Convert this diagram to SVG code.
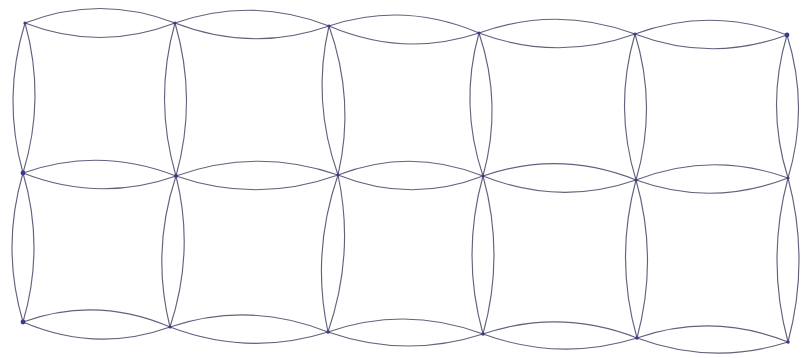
<svg xmlns="http://www.w3.org/2000/svg" width="802" height="358" viewBox="0 0 802 358">
<style>
.lens{fill:none;stroke:#62627e;stroke-width:1.15;stroke-linejoin:round}
.v{fill:#3b3a8a}
</style>
<rect width="802" height="358" fill="#ffffff"/>
<g id="connectors">
<path class="lens" d="M25 23 Q100 -6 175 23 Q100 52 25 23Z"/>
<path class="lens" d="M175 23 Q252 -4 329 26 Q252 53 175 23Z"/>
<path class="lens" d="M329 26 Q404 1 479 33 Q404 58 329 26Z"/>
<path class="lens" d="M479 33 Q557 5 635 34 Q557 62 479 33Z"/>
<path class="lens" d="M635 34 Q711 6 787 35 Q711 63 635 34Z"/>
<path class="lens" d="M23 173 Q99.5 146 176 176 Q99.5 203 23 173Z"/>
<path class="lens" d="M176 176 Q257 147 338 175 Q257 204 176 176Z"/>
<path class="lens" d="M338 175 Q410.5 147 483 176 Q410.5 204 338 175Z"/>
<path class="lens" d="M483 176 Q559.5 149.5 636 180 Q559.5 206.5 483 176Z"/>
<path class="lens" d="M636 180 Q712 150.5 788 178 Q712 207.5 636 180Z"/>
<path class="lens" d="M23 322 Q96.5 295.5 170 327 Q96.5 353.5 23 322Z"/>
<path class="lens" d="M170 327 Q249 300.5 328 332 Q249 357 170 327Z"/>
<path class="lens" d="M328 332 Q405.5 305 483 334 Q405.5 359 328 332Z"/>
<path class="lens" d="M483 334 Q560 308 637 338 Q560 362 483 334Z"/>
<path class="lens" d="M637 338 Q712.5 312 788 342 Q712.5 366 637 338Z"/>
<path class="lens" d="M25 23 Q2 98 23 173 Q46 98 25 23Z"/>
<path class="lens" d="M175 23 Q153.5 99.5 176 176 Q197.5 99.5 175 23Z"/>
<path class="lens" d="M329 26 Q311.5 100.5 338 175 Q355.5 100.5 329 26Z"/>
<path class="lens" d="M479 33 Q459 104.5 483 176 Q503 104.5 479 33Z"/>
<path class="lens" d="M635 34 Q613.5 107 636 180 Q657.5 107 635 34Z"/>
<path class="lens" d="M787 35 Q765.5 106.5 788 178 Q809.5 106.5 787 35Z"/>
<path class="lens" d="M23 173 Q1 247.5 23 322 Q45 247.5 23 173Z"/>
<path class="lens" d="M176 176 Q151 251.5 170 327 Q195 251.5 176 176Z"/>
<path class="lens" d="M338 175 Q311 253.5 328 332 Q355 253.5 338 175Z"/>
<path class="lens" d="M483 176 Q461 255 483 334 Q505 255 483 176Z"/>
<path class="lens" d="M636 180 Q614.5 259 637 338 Q658.5 259 636 180Z"/>
<path class="lens" d="M788 178 Q766 260 788 342 Q810 260 788 178Z"/>
</g>
<g id="v00"><circle class="v" cx="25" cy="23" r="1.6"/></g>
<g id="v01"><circle class="v" cx="175" cy="23" r="1.6"/></g>
<g id="v02"><circle class="v" cx="329" cy="26" r="1.6"/></g>
<g id="v03"><circle class="v" cx="479" cy="33" r="1.6"/></g>
<g id="v04"><circle class="v" cx="635" cy="34" r="1.6"/></g>
<g id="v05"><circle class="v" cx="787" cy="35" r="2.4"/></g>
<g id="v10"><circle class="v" cx="23" cy="173" r="2.4"/></g>
<g id="v11"><circle class="v" cx="176" cy="176" r="2"/></g>
<g id="v12"><circle class="v" cx="338" cy="175" r="1.6"/></g>
<g id="v13"><circle class="v" cx="483" cy="176" r="1.4"/></g>
<g id="v14"><circle class="v" cx="636" cy="180" r="1.6"/></g>
<g id="v15"><circle class="v" cx="788" cy="178" r="1.6"/></g>
<g id="v20"><circle class="v" cx="23" cy="322" r="2.4"/></g>
<g id="v21"><circle class="v" cx="170" cy="327" r="1.6"/></g>
<g id="v22"><circle class="v" cx="328" cy="332" r="1.8"/></g>
<g id="v23"><circle class="v" cx="483" cy="334" r="1.8"/></g>
<g id="v24"><circle class="v" cx="637" cy="338" r="1.8"/></g>
<g id="v25"><circle class="v" cx="788" cy="342" r="1.8"/></g>
</svg>
